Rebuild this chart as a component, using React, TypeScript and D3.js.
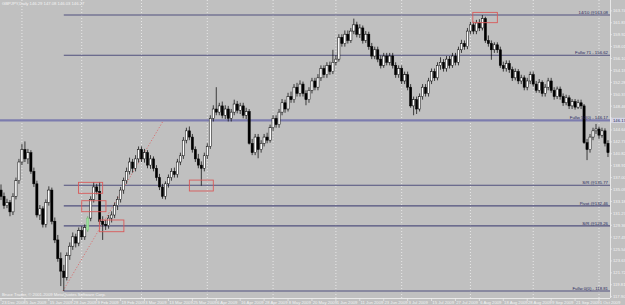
import React from 'react';
import * as d3 from 'd3';

const W = 625;
const H = 305;

// Daily candles [open, high, low, close], one per trading day from 23 Dec 2008
const ohlc: [number, number, number, number][] = [
  [135.0,135.9,133.4,134.0],[134.0,134.6,132.0,132.5],[132.5,133.6,132.1,133.0],[133.0,133.4,130.8,131.5],
  [131.5,134.5,131.0,134.0],[134.0,137.0,133.5,136.5],[136.5,140.0,136.0,139.5],[139.5,142.4,139.0,141.5],
  [141.5,142.8,139.5,140.0],[140.0,141.6,139.2,141.0],[141.0,141.4,137.6,138.0],[138.0,138.6,135.5,136.0],
  [136.0,136.5,130.6,131.0],[131.0,132.6,130.2,132.0],[132.0,132.4,129.0,129.5],[129.5,133.5,129.0,133.0],
  [133.0,135.6,132.5,135.0],[135.0,135.4,129.5,130.0],[130.0,130.6,126.5,127.0],[127.0,127.8,123.5,124.0],
  [124.0,125.0,119.6,122.0],[122.0,123.0,118.81,121.0],[121.0,125.0,120.5,124.5],[124.5,126.6,123.8,126.0],
  [126.0,128.2,125.4,127.5],[127.5,128.0,125.8,126.5],[126.5,129.0,126.0,128.5],[128.5,129.2,127.0,127.5],
  [127.5,129.5,127.0,129.0],[128.6,130.8,128.3,130.5],[130.5,134.0,130.0,133.5],[133.5,136.3,133.0,135.5],
  [135.5,136.0,134.3,134.8],[134.8,136.3,129.5,130.0],[130.0,130.8,127.0,129.5],[129.5,130.2,128.6,129.3],
  [129.3,131.0,128.8,130.5],[130.5,131.6,129.8,131.0],[131.0,133.0,130.5,132.5],[132.5,134.0,131.8,133.5],
  [133.5,135.5,133.0,135.0],[135.0,137.0,134.4,136.5],[136.5,138.6,136.0,138.0],[138.0,140.2,137.5,139.5],
  [139.5,140.0,137.8,138.5],[138.5,140.6,138.0,140.0],[140.0,142.0,139.4,141.5],[141.5,142.0,139.5,140.0],
  [140.0,141.6,139.4,141.0],[141.0,141.4,138.5,139.0],[139.0,140.6,138.4,140.0],[140.0,140.4,138.0,138.5],
  [138.5,139.0,136.5,137.0],[137.0,137.6,135.0,135.5],[135.5,136.0,133.6,134.0],[134.0,136.4,133.5,136.0],
  [136.0,137.5,135.4,137.0],[137.0,138.5,136.5,138.0],[138.0,138.6,137.0,137.5],[137.5,140.0,137.0,139.5],
  [139.5,141.0,139.0,140.5],[140.5,143.5,140.0,143.0],[143.0,145.0,142.5,144.5],[144.5,145.2,143.0,143.5],
  [143.5,144.0,141.0,141.5],[141.5,142.0,139.5,140.0],[140.0,140.8,138.5,139.0],[139.0,139.6,135.7,138.5],
  [138.5,141.0,138.0,140.5],[140.5,142.5,140.0,142.0],[142.0,147.0,141.6,146.5],[146.5,148.6,146.0,148.0],
  [148.0,151.5,147.0,147.5],[147.5,149.0,147.0,148.5],[148.5,149.2,146.5,147.0],[147.0,148.6,146.4,148.0],
  [148.0,148.5,146.0,146.5],[146.5,148.0,146.0,147.5],[147.5,149.5,147.0,148.8],[148.8,149.3,147.3,147.8],
  [147.8,149.0,147.2,148.5],[148.5,149.0,146.5,147.0],[147.0,148.2,146.4,147.6],[147.6,148.0,142.3,142.5],
  [142.5,143.2,140.6,141.0],[141.0,144.0,140.6,143.5],[143.5,144.0,140.1,141.5],[141.5,143.0,141.0,142.5],
  [142.5,144.0,142.0,143.5],[143.5,144.2,142.5,143.0],[143.0,145.5,142.6,145.0],[145.0,147.0,144.5,146.5],
  [146.5,147.0,145.0,145.5],[145.5,148.0,145.0,147.5],[147.5,149.6,147.0,149.0],[149.0,149.5,147.4,148.0],
  [148.0,150.6,147.6,150.0],[150.0,150.8,149.0,149.5],[149.5,152.0,149.0,151.5],[151.5,152.2,150.0,150.5],
  [150.5,152.6,150.0,152.0],[152.0,152.4,150.0,150.5],[150.5,151.0,148.6,149.5],[149.5,151.5,149.0,151.0],
  [151.0,153.0,150.5,152.5],[152.5,153.0,151.0,151.5],[151.5,153.6,151.0,153.0],[153.0,155.0,152.5,154.5],
  [154.5,155.0,153.0,153.5],[153.5,155.5,153.0,155.0],[155.0,155.6,153.5,154.0],[154.0,157.5,153.6,155.5],
  [155.5,156.6,155.0,156.0],[156.0,160.0,155.6,159.5],[159.5,160.0,158.0,158.5],[158.5,160.6,158.0,160.0],
  [160.0,160.6,158.5,159.0],[159.0,161.0,158.6,160.5],[160.5,162.5,160.0,161.5],[161.5,162.0,159.5,160.0],
  [160.0,161.6,159.4,161.0],[161.0,161.4,158.5,159.0],[159.0,160.5,158.6,160.0],[160.0,160.4,157.5,158.0],
  [158.0,158.6,156.0,156.5],[156.5,158.0,156.0,157.5],[157.5,158.0,155.5,156.0],[156.0,156.6,154.5,155.0],
  [155.0,157.0,154.6,156.5],[156.5,157.0,155.0,155.5],[155.5,157.0,155.0,156.5],[156.5,157.0,154.5,155.0],
  [155.0,155.5,153.0,153.5],[153.5,155.0,153.0,154.5],[154.5,155.0,152.0,152.5],[152.5,154.0,152.0,153.5],
  [153.5,154.0,151.0,151.5],[151.5,152.0,148.2,148.5],[148.5,150.0,147.0,149.5],[149.5,150.0,147.2,148.0],
  [148.0,150.5,147.6,150.0],[150.0,152.0,149.5,151.5],[151.5,152.0,150.0,150.5],[150.5,153.0,150.0,152.5],
  [152.5,154.5,152.0,154.0],[154.0,154.5,152.5,153.0],[153.0,155.5,152.6,155.0],[155.0,156.3,154.3,155.5],
  [155.5,156.0,154.0,154.5],[154.5,156.5,154.0,156.0],[156.0,156.5,154.5,155.0],[155.0,157.0,154.6,156.5],
  [156.5,157.0,155.0,155.5],[155.5,158.0,155.0,157.5],[157.5,159.1,157.0,158.5],[158.5,159.0,157.5,158.0],
  [158.0,161.0,157.6,160.5],[160.5,162.0,160.0,161.5],[161.5,162.0,160.0,160.5],[160.5,162.3,160.0,161.8],
  [161.8,162.4,160.5,161.0],[161.0,163.08,160.6,162.5],[162.5,162.8,158.6,159.0],[159.0,159.8,158.0,158.5],
  [158.5,159.0,155.9,157.5],[157.5,158.7,157.0,158.3],[158.3,158.7,157.0,157.5],[157.5,158.0,154.6,155.0],
  [155.0,155.6,154.0,154.5],[154.5,155.8,154.0,155.3],[155.3,155.8,153.8,154.3],[154.3,154.8,152.5,153.0],
  [153.0,154.5,152.6,154.0],[154.0,154.4,152.0,152.5],[152.5,153.5,152.0,153.0],[153.0,153.4,151.0,151.5],
  [151.5,153.0,151.0,152.5],[152.5,154.0,152.0,153.5],[153.5,154.0,151.6,152.0],[152.0,152.5,150.6,151.0],
  [151.0,152.8,150.6,152.3],[152.3,152.6,150.0,150.5],[150.5,152.0,150.0,151.5],[151.5,153.0,151.0,152.5],
  [152.5,153.0,150.6,151.0],[151.0,151.5,149.5,150.0],[150.0,151.6,149.6,151.2],[151.2,151.6,149.5,150.0],
  [150.0,150.5,148.5,149.0],[149.0,150.3,148.6,149.8],[149.8,150.2,148.0,148.5],[148.5,149.6,148.0,149.2],
  [149.2,149.6,147.9,148.3],[148.3,149.5,148.0,149.0],[149.0,149.5,148.0,148.5],[148.5,148.8,142.4,142.6],
  [142.6,143.2,139.8,141.5],[141.5,144.0,141.0,143.5],[143.5,145.0,143.0,144.5],[144.5,145.6,144.0,144.8],
  [144.8,145.2,143.2,143.8],[143.8,145.0,143.4,144.5],[144.5,144.9,142.0,142.5],[142.5,143.0,140.3,141.0],
];

const highlightBar = 29;

const dateLabels = [
  '23 Dec 2008','5 Jan 2009','15 Jan 2009','28 Jan 2009','9 Feb 2009','19 Feb 2009','3 Mar 2009',
  '13 Mar 2009','25 Mar 2009','6 Apr 2009','16 Apr 2009','28 Apr 2009','8 May 2009','20 May 2009',
  '1 Jun 2009','11 Jun 2009','23 Jun 2009','3 Jul 2009','15 Jul 2009','27 Jul 2009','6 Aug 2009',
  '18 Aug 2009','28 Aug 2009','9 Sep 2009','21 Sep 2009','1 Oct 2009',
];
const barsPerDateLabel = 8;
const monthStartBars = [7, 27, 47, 69, 91, 112, 134, 157, 178, 200];

const priceTicks = [
  117.90,119.81,121.72,123.63,125.54,127.45,129.36,131.27,133.18,135.09,137.00,138.91,140.82,
  142.73,144.64,146.55,148.46,150.37,152.28,154.19,156.10,158.01,159.92,161.83,163.74,
];

const levels = [
  { price: 163.08, label: '14/10 @163.08', fromBar: 21, major: false },
  { price: 156.62, label: 'Fullw 71 - 156.62', fromBar: 21, major: false },
  { price: 146.17, label: 'Fullw 50(0) - 146.17', fromBar: -1, major: true },
  { price: 135.77, label: 'S/R @135.77', fromBar: 21, major: false },
  { price: 132.46, label: 'Pivot @132.46', fromBar: 21, major: false },
  { price: 129.26, label: 'S/R @129.26', fromBar: 21, major: false },
  { price: 118.81, label: 'Fullw 0(0) - 118.81', fromBar: 21, major: false },
];
const axisMarkedLevel = 146.17;

// annotation boxes: [barFrom, barTo, priceTop, priceBottom]
const boxes: [number, number, number, number][] = [
  [157.8, 166.0, 163.5, 161.85],
  [25.9, 34.0, 136.24, 134.48],
  [27.0, 35.1, 133.29, 131.53],
  [32.9, 41.1, 130.2, 128.32],
  [63.0, 71.0, 136.6, 134.85],
];

const trend = { fromBar: 20.7, fromPrice: 118.81, toBar: 54.2, toPrice: 146.07 };

const headerText = 'GBPJPY,Daily  146.29 147.08 146.03 146.27';
const footerText = 'Bruce Trader, \u00A9 2001-2009 MetaQuotes Software Corp.';

export default function App() {
  const plotRight = 610;
  const plotBottom = 298;
  const x = d3.scaleLinear().domain([0, 200]).range([1, 599]);
  const y = d3.scaleLinear().domain([118.81, 163.08]).range([291, 15]);
  const font = 'Liberation Sans, Arial, sans-serif';
  const bw = 2.2;
  const lineColor = '#50507e';
  const markY = y(axisMarkedLevel);

  return (
    <div style={{ position: 'absolute', left: 0, top: 0 }}>
      <svg width={W} height={H} style={{ display: 'block', background: '#c0c0c0' }} fontFamily={font}>
        <rect x={0} y={0} width={W} height={H} fill="#c0c0c0" />
        {/* month grid */}
        {monthStartBars.map((b, i) => (
          <line key={'g' + i} x1={x(b)} x2={x(b)} y1={0} y2={plotBottom}
            stroke="#f2f2f2" strokeWidth={0.8} strokeDasharray="1,2" />
        ))}
        {/* levels */}
        {levels.map((l, i) => (
          <line key={'l' + i} x1={l.fromBar < 0 ? 0 : x(l.fromBar)} x2={plotRight} y1={y(l.price)} y2={y(l.price)}
            stroke={l.major ? '#7c7cae' : lineColor} strokeWidth={l.major ? 2.2 : 1.1} />
        ))}
        {/* trend line */}
        <line x1={x(trend.fromBar)} y1={y(trend.fromPrice)} x2={x(trend.toBar)} y2={y(trend.toPrice)}
          stroke="#d86a6a" strokeWidth={0.9} strokeDasharray="1.2,1.8" />
        {/* candles */}
        {ohlc.map(([o, h, l, c], i) => {
          const cx = x(i);
          const bull = c >= o;
          const top = y(Math.max(o, c));
          const bot = y(Math.min(o, c));
          const hl = i === highlightBar;
          return (
            <g key={'c' + i}>
              <line x1={cx} x2={cx} y1={y(h)} y2={y(l)} stroke={hl ? '#5aa05a' : '#000'} strokeWidth={0.7} />
              <rect x={cx - bw / 2} y={top} width={bw} height={Math.max(0.6, bot - top)}
                fill={hl ? '#9be09b' : bull ? '#ffffff' : '#000000'}
                stroke={hl ? '#7cc87c' : '#000'} strokeWidth={0.5} />
            </g>
          );
        })}
        {/* boxes */}
        {boxes.map(([b0, b1, p0, p1], i) => (
          <rect key={'b' + i} x={x(b0)} y={y(p0)} width={x(b1) - x(b0)} height={y(p1) - y(p0)}
            fill="none" stroke="#d85a5a" strokeWidth={0.9} />
        ))}
        {/* level labels */}
        {levels.map((l, i) => (
          <text key={'lt' + i} x={plotRight - 2} y={y(l.price) - 1.3} textAnchor="end" fontSize={4.3}
            fill="#26265a">{l.label}</text>
        ))}
        {/* axes frame */}
        <line x1={plotRight + 0.5} x2={plotRight + 0.5} y1={0} y2={plotBottom} stroke="#f4f4f4" strokeWidth={0.8} />
        <line x1={0} x2={plotRight} y1={plotBottom + 0.5} y2={plotBottom + 0.5} stroke="#f4f4f4" strokeWidth={0.8} />
        {priceTicks.map((p, i) => {
          const ty = y(p);
          const hidden = Math.abs(ty - markY) < 5.5;
          return (
            <g key={'pt' + i}>
              <line x1={plotRight} x2={plotRight + 2} y1={ty} y2={ty} stroke="#eeeeee" strokeWidth={0.7} />
              {!hidden && (
                <text x={plotRight + 3} y={ty + 1.5} fontSize={4.2} fill="#f4f4f4">{p.toFixed(2)}</text>
              )}
            </g>
          );
        })}
        {/* highlighted level price on axis */}
        <rect x={plotRight + 1} y={markY - 2.6} width={14} height={5.2} fill="#d4d4e4" />
        <text x={plotRight + 3} y={markY + 1.5} fontSize={4.2} fill="#26265a">{axisMarkedLevel.toFixed(2)}</text>
        {/* date labels */}
        {dateLabels.map((d, i) => (
          <g key={'d' + i}>
            <line x1={x(i * barsPerDateLabel)} x2={x(i * barsPerDateLabel)} y1={plotBottom} y2={plotBottom + 3}
              stroke="#eeeeee" strokeWidth={0.7} />
            <text x={x(i * barsPerDateLabel) + 0.8} y={plotBottom + 5.5} fontSize={4.2} fill="#f4f4f4">{d}</text>
          </g>
        ))}
        <text x={2} y={5} fontSize={4.2} fill="#f4f4f4">{headerText}</text>
        <text x={2} y={296} fontSize={4.2} fill="#f4f4f4">{footerText}</text>
      </svg>
    </div>
  );
}
